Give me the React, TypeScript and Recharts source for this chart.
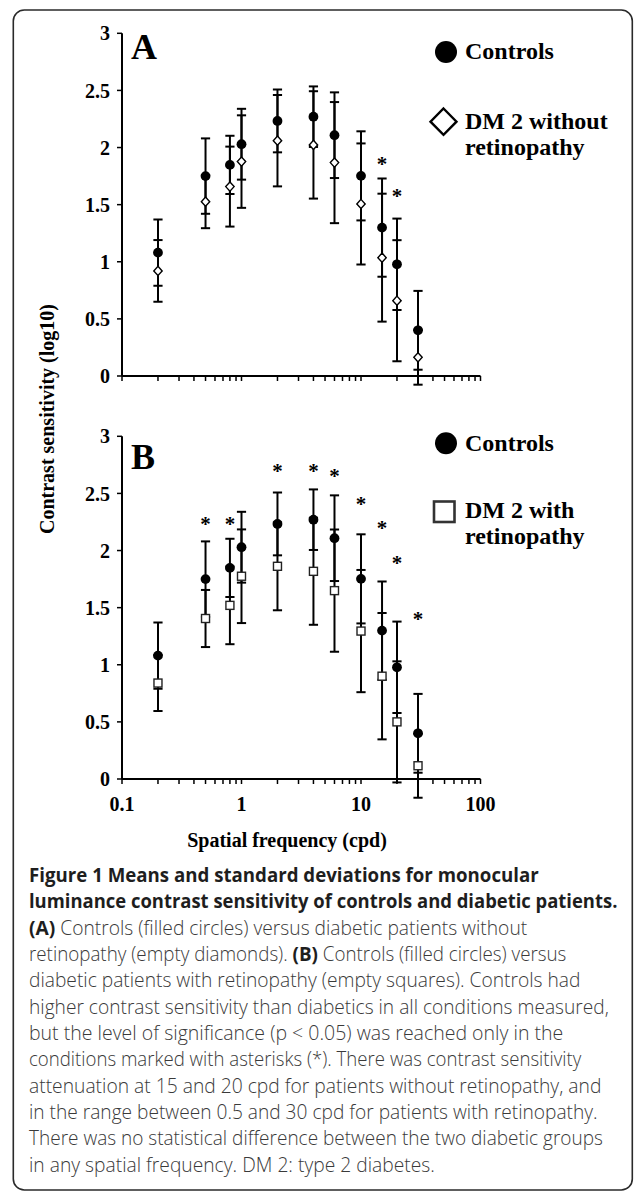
import React, { useLayoutEffect, useRef, useState } from 'react';
import { ScatterChart, Scatter, XAxis, YAxis, ErrorBar } from 'recharts';

// ---- data ----
const freqs = [0.2, 0.5, 0.8, 1, 2, 4, 6, 10, 15, 20, 30];
const controlsMean = [1.08, 1.75, 1.848, 2.029, 2.233, 2.27, 2.108, 1.752, 1.299, 0.978, 0.4];
const controlsSD = [0.29, 0.33, 0.255, 0.31, 0.275, 0.265, 0.375, 0.39, 0.43, 0.4, 0.345];
const dmNoRetMean = [0.92, 1.526, 1.658, 1.877, 2.06, 2.023, 1.868, 1.506, 1.036, 0.659, 0.164];
const dmNoRetSD = [0.27, 0.232, 0.35, 0.405, 0.4, 0.47, 0.53, 0.53, 0.56, 0.53, 0.24];
const dmRetMean = [0.84, 1.405, 1.52, 1.775, 1.862, 1.818, 1.649, 1.295, 0.9, 0.5, 0.116];
const dmRetSD = [0.245, 0.25, 0.34, 0.41, 0.385, 0.468, 0.535, 0.535, 0.553, 0.53, 0.28];

const sigAx = [15, 20];
const sigAy = [1.877, 1.6];
const sigBx = [0.5, 0.8, 2, 4, 6, 10, 15, 20, 30];
const sigBy = [2.255, 2.255, 2.715, 2.72, 2.67, 2.43, 2.22, 1.91, 1.42];

const xTicks = [0.1, 0.2, 0.3, 0.4, 0.5, 0.6, 0.7, 0.8, 0.9, 1, 2, 3, 4, 5, 6, 7, 8, 9, 10, 20, 30, 40, 50, 60, 70, 80, 90, 100];
const xLabelTicks = [0.1, 1, 10, 100];
const yTicks = [0, 0.5, 1, 1.5, 2, 2.5, 3];

const seriesControls = 'Controls';
const seriesA = ['DM 2 without', 'retinopathy'];
const seriesB = ['DM 2 with', 'retinopathy'];
const xTitle = 'Spatial frequency (cpd)';
const yTitle = 'Contrast sensitivity (log10)';

const captionLines: { parts: { t: string; b?: boolean }[]; end: number }[] = [
  { parts: [{ t: 'Figure 1 Means and standard deviations for monocular', b: true }], end: 538.3 },
  { parts: [{ t: 'luminance contrast sensitivity of controls and diabetic patients.', b: true }], end: 617.3 },
  { parts: [{ t: '(A)', b: true }, { t: ' Controls (filled circles) versus diabetic patients without' }], end: 526.7 },
  { parts: [{ t: 'retinopathy (empty diamonds). ' }, { t: '(B)', b: true }, { t: ' Controls (filled circles) versus' }], end: 566 },
  { parts: [{ t: 'diabetic patients with retinopathy (empty squares). Controls had' }], end: 580 },
  { parts: [{ t: 'higher contrast sensitivity than diabetics in all conditions measured,' }], end: 608.3 },
  { parts: [{ t: 'but the level of significance (p < 0.05) was reached only in the' }], end: 562.7 },
  { parts: [{ t: 'conditions marked with asterisks (*). There was contrast sensitivity' }], end: 581 },
  { parts: [{ t: 'attenuation at 15 and 20 cpd for patients without retinopathy, and' }], end: 601 },
  { parts: [{ t: 'in the range between 0.5 and 30 cpd for patients with retinopathy.' }], end: 597.3 },
  { parts: [{ t: 'There was no statistical difference between the two diabetic groups' }], end: 602.7 },
  { parts: [{ t: 'in any spatial frequency. DM 2: type 2 diabetes.' }], end: 434.3 },
];

const build = (mean: number[], sd: number[]) => freqs.map((x, i) => ({ x, y: mean[i], sd: sd[i] }));
const controlsData = build(controlsMean, controlsSD);
const dmNoRetData = build(dmNoRetMean, dmNoRetSD);
const dmRetData = build(dmRetMean, dmRetSD);
const sigAData = sigAx.map((x, i) => ({ x, y: sigAy[i] }));
const sigBData = sigBx.map((x, i) => ({ x, y: sigBy[i] }));

const SERIF = '"Liberation Serif", "Times New Roman", serif';
const SANS = '"Open Sans", "Noto Sans", sans-serif';

const NoShape = () => <g />;
const CircleShape = (p: any) => <circle cx={p.cx} cy={p.cy} r={4.9} fill="#000" />;
const DiamondShape = (p: any) => (
  <path
    d={`M${p.cx},${p.cy - 4.6} L${p.cx + 4.2},${p.cy} L${p.cx},${p.cy + 4.6} L${p.cx - 4.2},${p.cy} Z`}
    fill="#fff"
    stroke="#000"
    strokeWidth={1.4}
  />
);
const SquareShape = (p: any) => (
  <rect x={p.cx - 4} y={p.cy - 4} width={8} height={8} fill="#fff" stroke="#222" strokeWidth={1.4} />
);
const StarShape = (p: any) => (
  <text x={p.cx} y={p.cy + 9.5} textAnchor="middle" fontFamily={SERIF} fontWeight="bold" fontSize={21} fill="#000">
    *
  </text>
);

const W = 637;
const CAP_X = 29;

function Panel({ dm, dmShape, sig, showLabels, height, bottom }: any) {
  return (
    <ScatterChart
      width={W}
      height={height}
      margin={{ top: 33.3, right: 156.5, bottom: bottom, left: 62 }}
      style={{ overflow: 'visible' }}
    >
      <XAxis
        dataKey="x"
        type="number"
        scale="log"
        domain={[0.1, 100]}
        ticks={xTicks}
        allowDataOverflow
        interval={0}
        height={30}
        tickSize={5}
        tickMargin={13}
        axisLine={{ stroke: '#000', strokeWidth: 2 }}
        tickLine={{ stroke: '#000', strokeWidth: 1.5 }}
        tick={{ fontFamily: SERIF, fontWeight: 'bold', fontSize: 20, fill: '#000' }}
        tickFormatter={(v: number) => (showLabels && xLabelTicks.some((t) => Math.abs(t - v) < 1e-9) ? String(v) : '')}
      />
      <YAxis
        dataKey="y"
        type="number"
        domain={[0, 3]}
        ticks={yTicks}
        allowDataOverflow
        interval={0}
        width={60}
        tickSize={5}
        tickMargin={7}
        axisLine={{ stroke: '#000', strokeWidth: 2 }}
        tickLine={{ stroke: '#000', strokeWidth: 1.5 }}
        tick={{ fontFamily: SERIF, fontWeight: 'bold', fontSize: 20, fill: '#000' }}
      />
      {/* diabetic error bars (drawn beneath the control markers) */}
      <Scatter data={dm} shape={NoShape} isAnimationActive={false}>
        <ErrorBar dataKey="sd" direction="y" width={4.6} stroke="#000" strokeWidth={2} isAnimationActive={false} />
      </Scatter>
      <Scatter data={controlsData} shape={CircleShape} isAnimationActive={false}>
        <ErrorBar dataKey="sd" direction="y" width={4.6} stroke="#000" strokeWidth={2} isAnimationActive={false} />
      </Scatter>
      {/* diabetic markers on top */}
      <Scatter data={dm} shape={dmShape} isAnimationActive={false} />
      <Scatter data={sig} shape={StarShape} isAnimationActive={false} />
    </ScatterChart>
  );
}

function CaptionLine({ line, y }: { line: (typeof captionLines)[number]; y: number }) {
  const ref = useRef<SVGTextElement>(null);
  const [s, setS] = useState(0.82);
  useLayoutEffect(() => {
    if (ref.current) {
      const w = ref.current.getComputedTextLength();
      if (w > 0) setS((line.end - CAP_X) / w);
    }
  }, []);
  return (
    <text ref={ref} x={0} y={0} transform={`translate(${CAP_X} ${y}) scale(${s} 1)`} fontFamily={SANS} fontSize={20}>
      {line.parts.map((p, j) => (
        <tspan key={j} fontWeight={p.b ? 700 : 300} fill={p.b ? '#1e1e1e' : '#3a3a3a'}>
          {p.t}
        </tspan>
      ))}
    </text>
  );
}

export default function App() {
  return (
    <div style={{ position: 'absolute', left: 0, top: 0, width: W, height: 1196, background: '#fff' }}>
      <svg width={W} height={1196} style={{ position: 'absolute', left: 0, top: 0 }}>
        <rect x={13.3} y={10} width={619} height={1180} rx={11} ry={11} fill="none" stroke="#2a2a2a" strokeWidth={1.6} />
        {/* panel letters */}
        <text x={131} y={59.3} fontFamily={SERIF} fontWeight="bold" fontSize={36} fill="#000">A</text>
        <text x={131} y={469} fontFamily={SERIF} fontWeight="bold" fontSize={36} fill="#000">B</text>
        {/* legend A */}
        <circle cx={446} cy={52} r={11} fill="#000" />
        <text x={465} y={59.3} fontFamily={SERIF} fontWeight="bold" fontSize={24} fill="#000">{seriesControls}</text>
        <path d="M443.5,108.5 L456.5,121.7 L443.5,134.9 L430.5,121.7 Z" fill="#fff" stroke="#000" strokeWidth={2.4} />
        <text x={465} y={129.3} fontFamily={SERIF} fontWeight="bold" fontSize={24} fill="#000">{seriesA[0]}</text>
        <text x={465} y={155} fontFamily={SERIF} fontWeight="bold" fontSize={24} fill="#000">{seriesA[1]}</text>
        {/* legend B */}
        <circle cx={446} cy={443.3} r={11} fill="#000" />
        <text x={465} y={450.7} fontFamily={SERIF} fontWeight="bold" fontSize={24} fill="#000">{seriesControls}</text>
        <rect x={434} y={501.5} width={20.5} height={20.5} fill="#fff" stroke="#333" strokeWidth={2.6} />
        <text x={465} y={518.3} fontFamily={SERIF} fontWeight="bold" fontSize={24} fill="#000">{seriesB[0]}</text>
        <text x={465} y={544} fontFamily={SERIF} fontWeight="bold" fontSize={24} fill="#000">{seriesB[1]}</text>
        {/* axis titles */}
        <text
          x={53.5}
          y={419}
          transform="rotate(-90 53.5 419)"
          textAnchor="middle"
          fontFamily={SERIF}
          fontWeight="bold"
          fontSize={20}
          fill="#000"
        >
          {yTitle}
        </text>
        <text x={287} y={847} textAnchor="middle" fontFamily={SERIF} fontWeight="bold" fontSize={20} fill="#000">
          {xTitle}
        </text>
        {/* caption */}
        {captionLines.map((ln, i) => (
          <CaptionLine key={i} line={ln} y={882 + 26.33 * i} />
        ))}
      </svg>
      <div style={{ position: 'absolute', left: 0, top: 0 }}>
        <Panel dm={dmNoRetData} dmShape={DiamondShape} sig={sigAData} showLabels={false} height={406} bottom={0} />
      </div>
      <div style={{ position: 'absolute', left: 0, top: 403.3 }}>
        <Panel dm={dmRetData} dmShape={SquareShape} sig={sigBData} showLabels={true} height={446} bottom={40} />
      </div>
    </div>
  );
}
